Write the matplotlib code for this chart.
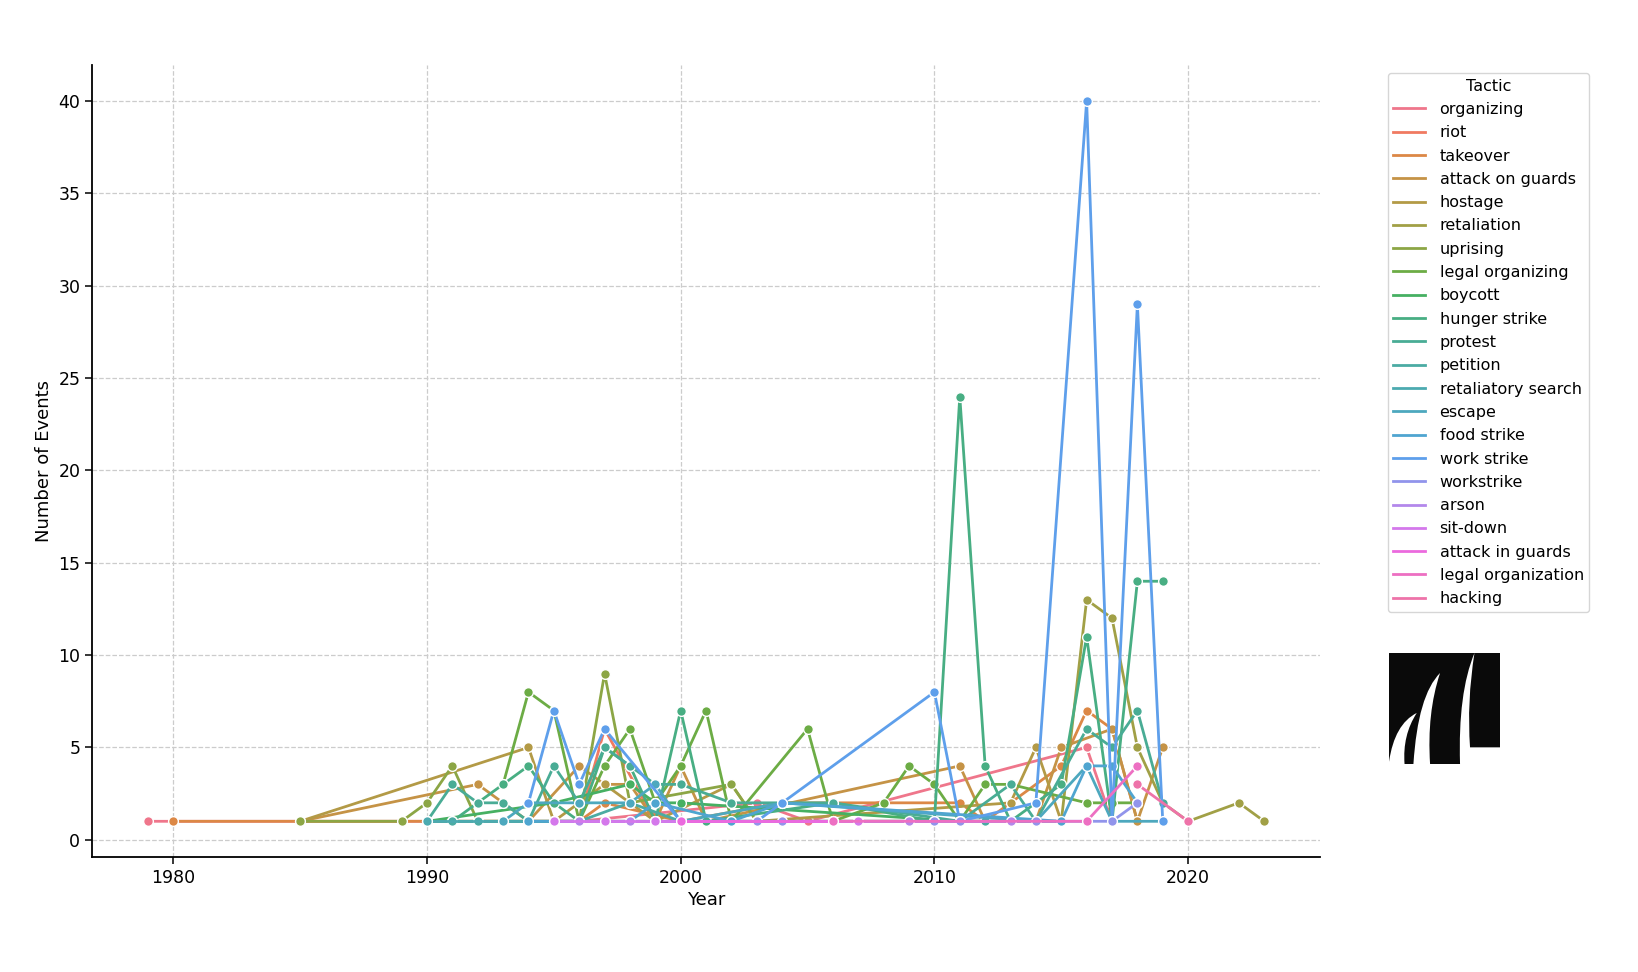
import matplotlib
matplotlib.use('Agg')
import matplotlib.pyplot as plt
import seaborn as sns
from matplotlib.lines import Line2D
from matplotlib.path import Path
from matplotlib.patches import PathPatch, Rectangle

plt.rcParams['font.family'] = ['DejaVu Sans']

tactics = ['organizing', 'riot', 'takeover', 'attack on guards', 'hostage', 'retaliation',
           'uprising', 'legal organizing', 'boycott', 'hunger strike', 'protest', 'petition',
           'retaliatory search', 'escape', 'food strike', 'work strike', 'workstrike', 'arson',
           'sit-down', 'attack in guards', 'legal organization', 'hacking']

# years / counts per tactic
organizing_years = [1979, 1980, 1996, 2003, 2005, 2016, 2017]
organizing_vals = [1, 1, 1, 2, 1, 5, 1]
riot_years = [1996, 1997, 1999, 2012]
riot_vals = [1, 6, 1, 1]
takeover_years = [1980, 1985, 1996, 1997, 2000, 2004, 2011, 2012, 2015, 2016, 2017, 2018]
takeover_vals = [1, 1, 1, 2, 1, 2, 2, 1, 4, 7, 6, 1]
attack_guards_years = [1985, 1992, 1993, 1994, 1996, 1997, 1998, 1999, 2000, 2001, 2011, 2012,
                       2014, 2015, 2017, 2018, 2019]
attack_guards_vals = [1, 3, 2, 1, 4, 3, 3, 1, 4, 1, 4, 1, 1, 5, 6, 1, 5]
hostage_years = [1985, 1994, 1995, 1997, 1999, 2002, 2003, 2013, 2014, 2015]
hostage_vals = [1, 5, 1, 3, 1, 3, 1, 2, 5, 1]
retaliation_years = [1990, 1993, 2015, 2016, 2017, 2018, 2019, 2020, 2022, 2023]
retaliation_vals = [1, 1, 1, 13, 12, 5, 2, 1, 2, 1]
uprising_years = [1985, 1989, 1990, 1991, 1992, 1996, 1997, 1998, 2002, 2003]
uprising_vals = [1, 1, 2, 4, 1, 1, 9, 2, 3, 1]
legal_org_years = [1993, 1994, 1995, 1996, 1997, 1998, 1999, 2000, 2001, 2002, 2005, 2006,
                   2008, 2009, 2010, 2011, 2012, 2013, 2016, 2017, 2018]
legal_org_vals = [3, 8, 7, 1, 4, 6, 2, 4, 7, 1, 6, 1, 2, 4, 3, 1, 3, 3, 2, 2, 2]
boycott_years = [1990, 1995, 1998, 1999, 2000, 2011, 2014]
boycott_vals = [1, 2, 3, 2, 2, 1, 1]
hunger_years = [1991, 1992, 1993, 1994, 1995, 1996, 1997, 1998, 1999, 2000, 2001, 2006, 2010,
                2011, 2012, 2013, 2015, 2016, 2017, 2018, 2019]
hunger_vals = [1, 2, 3, 4, 2, 1, 5, 4, 1, 7, 1, 2, 1, 24, 4, 1, 3, 11, 1, 14, 14]
protest_years = [1990, 1991, 1992, 1993, 1994, 1995, 1996, 1997, 1998, 1999, 2000, 2002, 2006,
                 2011, 2013, 2014, 2016, 2017, 2018, 2019]
protest_vals = [1, 3, 2, 2, 1, 4, 2, 5, 4, 3, 3, 2, 2, 1, 3, 1, 6, 5, 7, 2]
petition_years = [1990, 1991, 1992, 1993, 1994, 1996, 1998, 2000, 2012]
petition_vals = [1, 1, 1, 1, 1, 1, 2, 1, 1]
search_years = [1990, 1994, 2010, 2015]
search_vals = [1, 1, 1, 1]
escape_years = [1993, 1994, 1996, 1998, 1999, 2000, 2004, 2014, 2016, 2017, 2019]
escape_vals = [1, 2, 2, 2, 3, 1, 2, 1, 4, 1, 1]
food_years = [1994, 1995, 1998, 1999, 2002, 2004, 2015, 2016, 2017, 2018]
food_vals = [1, 1, 1, 2, 1, 2, 1, 4, 4, 2]
work_years = [1994, 1995, 1996, 1997, 2000, 2003, 2004, 2010, 2011, 2014, 2016, 2017, 2018, 2019]
work_vals = [2, 7, 3, 6, 1, 1, 2, 8, 1, 2, 40, 1, 29, 1]
workstrike_years = [1995, 1996, 1999, 2003, 2004, 2010, 2011, 2014, 2017, 2018]
workstrike_vals = [1, 1, 1, 1, 1, 1, 1, 1, 1, 2]
arson_years = [1996, 1997, 1998, 2000, 2007, 2009, 2013]
arson_vals = [1, 1, 1, 1, 1, 1, 1]
sitdown_years = [1995, 1997, 1999, 2007]
sitdown_vals = [1, 1, 1, 1]
attack_in_years = [2000, 2006]
attack_in_vals = [1, 1]
legal_orgn_years = [2006, 2016, 2018]
legal_orgn_vals = [1, 1, 4]
hacking_years = [2018, 2020]
hacking_vals = [3, 1]

series = [
    (organizing_years, organizing_vals), (riot_years, riot_vals),
    (takeover_years, takeover_vals), (attack_guards_years, attack_guards_vals),
    (hostage_years, hostage_vals), (retaliation_years, retaliation_vals),
    (uprising_years, uprising_vals), (legal_org_years, legal_org_vals),
    (boycott_years, boycott_vals), (hunger_years, hunger_vals),
    (protest_years, protest_vals), (petition_years, petition_vals),
    (search_years, search_vals), (escape_years, escape_vals),
    (food_years, food_vals), (work_years, work_vals),
    (workstrike_years, workstrike_vals), (arson_years, arson_vals),
    (sitdown_years, sitdown_vals), (attack_in_years, attack_in_vals),
    (legal_orgn_years, legal_orgn_vals), (hacking_years, hacking_vals),
]

colors = sns.husl_palette(len(tactics), s=0.8, l=0.65)

fig = plt.figure(figsize=(16.38, 9.72), dpi=100)
ax = fig.add_axes([0.0562, 0.118, 0.7497, 0.815])

for (yrs, vals), c in zip(series, colors):
    ax.plot(yrs, vals, color=c, lw=2, marker='o', ms=7, mec='white', mew=1.0)

ax.grid(True, ls='--', color='#cccccc', lw=0.9)
ax.set_axisbelow(True)
for s in ['top', 'right']:
    ax.spines[s].set_visible(False)
ax.spines['left'].set_linewidth(1.3)
ax.spines['bottom'].set_linewidth(1.3)
ax.tick_params(labelsize=12.5, length=5, width=1.1)
ax.set_xlabel('Year', fontsize=13, labelpad=3)
ax.set_ylabel('Number of Events', fontsize=13)
ax.set_xticks([1980, 1990, 2000, 2010, 2020])
ax.set_yticks(range(0, 45, 5))

handles = [Line2D([0], [0], color=c, lw=2) for c in colors]
leg = ax.legend(handles, tactics, title='Tactic', loc='upper left', bbox_to_anchor=(1.055, 0.99),
                fontsize=11.5, title_fontsize=11.5, frameon=True, handlelength=2.0,
                handletextpad=0.9, labelspacing=0.52, borderaxespad=0, borderpad=0.35)
leg.get_frame().set_edgecolor('#cccccc')

# logo
lax = fig.add_axes([1389 / 1638, 1 - 764 / 972, 111 / 1638, 111 / 972])
lax.set_xlim(0, 1)
lax.set_ylim(0, 1)
lax.axis('off')
lax.add_patch(Rectangle((0, 0), 1, 1, color='#0a0a0a'))

def shape(points, codes):
    return PathPatch(Path(points, codes), facecolor='white', edgecolor='none')

M, C, L, Z = Path.MOVETO, Path.CURVE3, Path.LINETO, Path.CLOSEPOLY
lax.add_patch(shape([(0.0, 0.02), (0.05, 0.36), (0.25, 0.46), (0.12, 0.26), (0.14, 0.0),
                     (0.0, 0.0), (0.0, 0.02)],
                    [M, C, C, C, C, L, Z]))
lax.add_patch(shape([(0.22, 0.0), (0.26, 0.62), (0.46, 0.82), (0.34, 0.46), (0.37, 0.0), (0.22, 0.0)],
                    [M, C, C, C, C, Z]))
lax.add_patch(shape([(0.64, 0.0), (0.62, 0.64), (0.77, 1.0), (0.70, 0.56), (0.73, 0.15),
                     (1.0, 0.15), (1.0, 0.0), (0.64, 0.0)],
                    [M, C, C, C, C, L, L, Z]))

fig.savefig('out.png', dpi=100)
